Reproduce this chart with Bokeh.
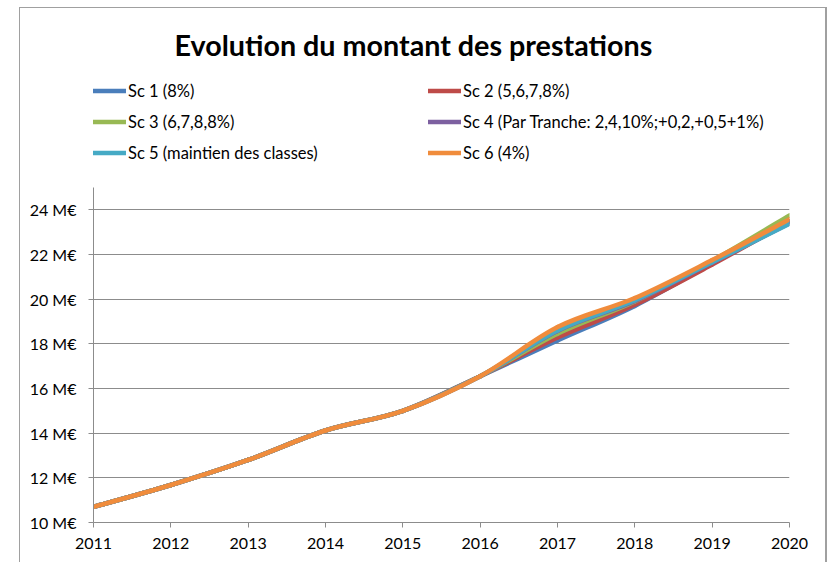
from bokeh.plotting import figure
from bokeh.models import (Range1d, FixedTicker, PrintfTickFormatter, Legend,
                          LegendItem, ColumnDataSource)
from bokeh.embed import file_html
from bokeh.resources import INLINE

# ---------------- data ----------------
years = [2011, 2012, 2013, 2014, 2015, 2016, 2017, 2018, 2019, 2020]
sc1 = [10.70, 11.68, 12.80, 14.12, 15.00, 16.55, 18.15, 19.70, 21.60, 23.50]
sc2 = [10.70, 11.68, 12.80, 14.12, 15.00, 16.55, 18.28, 19.75, 21.55, 23.48]
sc3 = [10.70, 11.68, 12.80, 14.12, 15.00, 16.55, 18.45, 19.90, 21.72, 23.75]
sc4 = [10.70, 11.68, 12.80, 14.12, 15.00, 16.55, 18.58, 19.92, 21.64, 23.40]
sc5 = [10.70, 11.68, 12.80, 14.12, 15.00, 16.55, 18.60, 19.95, 21.65, 23.38]
sc6 = [10.70, 11.68, 12.80, 14.12, 15.00, 16.55, 18.75, 20.05, 21.75, 23.58]
labels = ["Sc 1 (8%)", "Sc 2 (5,6,7,8%)", "Sc 3 (6,7,8,8%)",
          "Sc 4 (Par Tranche: 2,4,10%;+0,2,+0,5+1%)",
          "Sc 5 (maintien des classes)", "Sc 6 (4%)"]
y_ticks = [10, 12, 14, 16, 18, 20, 22, 24]
y_axis_span = (10, 25)
title_text = "Evolution du montant des prestations"

series = [sc1, sc2, sc3, sc4, sc5, sc6]
colors = ["#4A7EBB", "#BE4B48", "#98B954", "#7D60A0", "#46AAC5", "#F08C3C"]
FONT = "Lato"
GRID = "#8C8C8C"
BORDER = "#A0A0A0"


def smooth_segments(xs, ys):
    """Cubic Bezier segments (Catmull-Rom style smoothing, as in spreadsheet smoothed lines)."""
    n = len(xs)
    cols = {k: [] for k in ("x0", "y0", "x1", "y1", "cx0", "cy0", "cx1", "cy1")}
    for i in range(n - 1):
        a = max(i - 1, 0)
        b = min(i + 2, n - 1)
        cols["x0"].append(xs[i]); cols["y0"].append(ys[i])
        cols["x1"].append(xs[i + 1]); cols["y1"].append(ys[i + 1])
        cols["cx0"].append(xs[i] + (xs[i + 1] - xs[a]) / 6.0)
        cols["cy0"].append(ys[i] + (ys[i + 1] - ys[a]) / 6.0)
        cols["cx1"].append(xs[i + 1] - (xs[b] - xs[i]) / 6.0)
        cols["cy1"].append(ys[i + 1] - (ys[b] - ys[i]) / 6.0)
    return ColumnDataSource(cols)


# ---------------- layout (pixels) ----------------
W, H = 829, 562
LEFT, RIGHT, BOTTOM = 93, 40, 40
TOP = 70                     # frame top; legend lives inside the frame, above the axis end
AXIS_TOP = 187               # where the value axis ends (value 25)
px_per_unit = (H - BOTTOM - AXIS_TOP) / (y_axis_span[1] - y_axis_span[0])
y_end = y_axis_span[0] + (H - BOTTOM - TOP) / px_per_unit

p = figure(width=W, height=H, output_backend="svg", toolbar_location=None,
           x_range=Range1d(years[0], years[-1]),
           y_range=Range1d(y_axis_span[0], y_end),
           min_border_left=LEFT, min_border_right=RIGHT, min_border_top=TOP,
           min_border_bottom=BOTTOM, title=title_text)
p.background_fill_color = None
p.border_fill_color = None
p.outline_line_color = None

# chart-area border drawn behind the (transparent) canvas
p.styles = {
    "background-color": "white",
    "background-image": ", ".join([f"linear-gradient({BORDER}, {BORDER})"] * 3),
    "background-position": "19px 7px, 19px 7px, 825px 7px",
    "background-size": "1px 600px, 807px 1px, 2px 600px",
    "background-repeat": "no-repeat",
}

p.title.text_font = FONT
p.title.text_font_style = "bold"
p.title.text_font_size = "28.7px"
p.title.align = "left"
p.title.offset = 81
p.title.standoff = 17
p.title.text_color = "black"

# axes
p.xaxis.ticker = FixedTicker(ticks=years)
p.xaxis.major_label_overrides = {y: str(y) for y in years}
p.yaxis.ticker = FixedTicker(ticks=y_ticks)
p.yaxis.formatter = PrintfTickFormatter(format="%d M€")
p.yaxis.bounds = y_axis_span
for ax in (p.xaxis, p.yaxis):
    ax.axis_line_color = GRID
    ax.axis_line_width = 1
    ax.major_tick_line_color = GRID
    ax.major_tick_in = 0
    ax.major_tick_out = 5
    ax.minor_tick_line_color = None
    ax.major_label_text_font = FONT
    ax.major_label_text_font_size = "16px"
    ax.major_label_text_color = "black"
p.yaxis.major_label_standoff = 12
p.xaxis.major_label_standoff = 10
p.xgrid.grid_line_color = None
p.ygrid.grid_line_color = GRID
p.ygrid.grid_line_width = 1

items = []
for vals, lab, col in zip(series, labels, colors):
    src = smooth_segments(years, vals)
    r = p.bezier(x0="x0", y0="y0", x1="x1", y1="y1", cx0="cx0", cy0="cy0",
                 cx1="cx1", cy1="cy1", source=src, line_color=col,
                 line_width=4.5, line_cap="round")
    items.append(LegendItem(label=lab, renderers=[r]))

legend = Legend(items=items, ncols=2, orientation="horizontal",
                location=(0, 359))
legend.glyph_width = 33
legend.glyph_height = 21
legend.label_height = 21
legend.label_width = 290
legend.label_standoff = 2
legend.spacing = 10
legend.padding = 0
legend.margin = 0
legend.border_line_color = None
legend.background_fill_alpha = 0
legend.label_text_font = FONT
legend.label_text_font_size = "16.5px"
legend.label_text_color = "black"
p.add_layout(legend, "center")

open("out.html", "w").write(file_html(p, INLINE))
